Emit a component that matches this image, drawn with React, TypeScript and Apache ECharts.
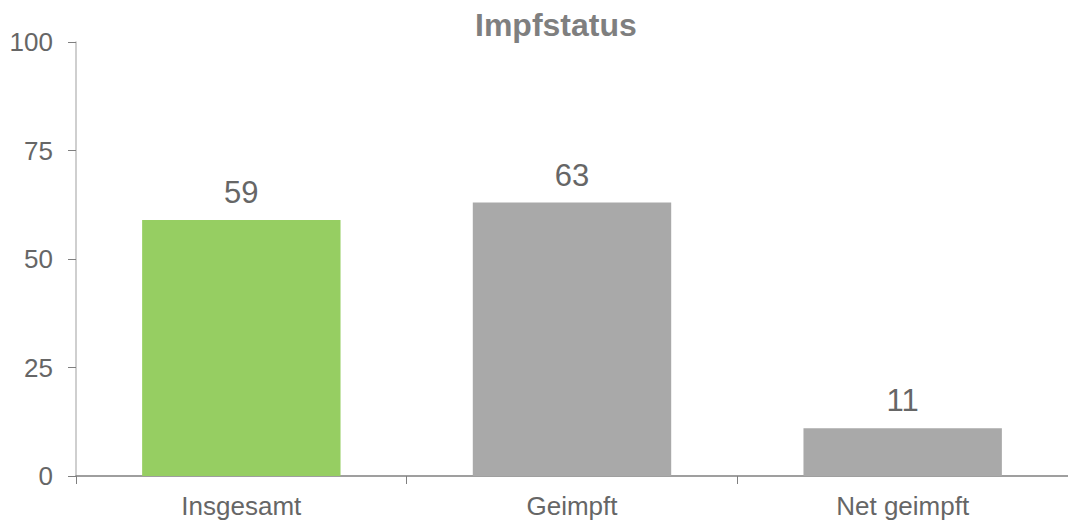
import React, { useEffect, useRef } from "react";
import * as echarts from "echarts";

const categories = ["Insgesamt", "Geimpft", "Net geimpft"];
const values = [59, 63, 11];
const barColors = ["#96CE62", "#A9A9A9", "#A9A9A9"];
const yTicks = { min: 0, max: 100, interval: 25 };

export default function App() {
  const ref = useRef<HTMLDivElement>(null);
  useEffect(() => {
    document.body.style.margin = "0";
    const chart = echarts.init(ref.current!, null, { renderer: "svg" });
    chart.setOption({
      animation: false,
      textStyle: { fontFamily: "Liberation Sans" },
      title: {
        text: "Impfstatus",
        left: 470,
        top: 4,
        textStyle: { fontSize: 32, fontWeight: "bold", color: "#7F7F7F", fontFamily: "Liberation Sans" },
      },
      grid: { left: 76, right: -1, top: 42, bottom: 48, containLabel: false },
      xAxis: {
        type: "category",
        data: categories,
        axisLine: { lineStyle: { color: "#7F7F7F", width: 1.5 } },
        axisTick: { show: true, length: 8, lineStyle: { color: "#7F7F7F" } },
        axisLabel: { fontSize: 26, color: "#666666", margin: 17 },
      },
      yAxis: {
        type: "value",
        min: yTicks.min,
        max: yTicks.max,
        interval: yTicks.interval,
        splitLine: { show: false },
        axisLine: { show: true, lineStyle: { color: "#BFBFBF", width: 1.5 } },
        axisTick: { show: true, length: 8, lineStyle: { color: "#7F7F7F" } },
        axisLabel: { fontSize: 26, color: "#666666", margin: 23 },
      },
      series: [
        {
          type: "bar",
          data: values.map((v, i) => ({ value: v, itemStyle: { color: barColors[i] } })),
          barCategoryGap: "40%",
          label: {
            show: true,
            position: "top",
            distance: 12,
            fontSize: 31,
            color: "#666666",
          },
        },
      ],
    });
    return () => chart.dispose();
  }, []);
  return <div ref={ref} style={{ width: 1068, height: 524 }} />;
}
